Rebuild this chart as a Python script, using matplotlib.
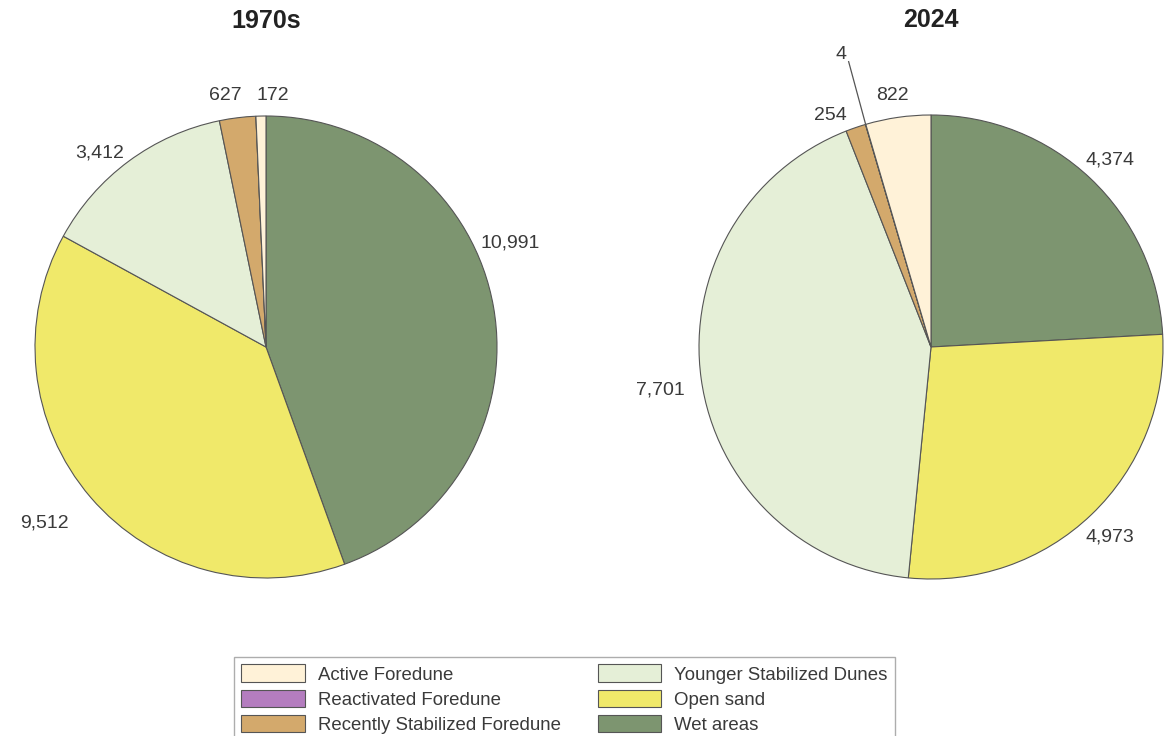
import numpy as np
import matplotlib.pyplot as plt

plt.rcParams['font.family'] = ['Liberation Sans', 'DejaVu Sans']

# pie order: clockwise from the top
classes = ["Wet areas", "Open sand", "Younger Stabilized Dunes",
           "Recently Stabilized Foredune", "Reactivated Foredune", "Active Foredune"]
colors = ["#7d9570", "#f0e96a", "#e5efd7", "#d3a96c", "#b47dbf", "#fff2d8"]
area_1970s = [10991, 9512, 3412, 627, 0, 172]
area_2024 = [4374, 4973, 7701, 254, 4, 822]
legend_order = ["Active Foredune", "Reactivated Foredune", "Recently Stabilized Foredune",
                "Younger Stabilized Dunes", "Open sand", "Wet areas"]

# label positions in pie radius units (layout only)
pos_1970s = [(1.056, 0.45), (-0.957, -0.762), (-0.719, 0.84), (-0.177, 1.087), None, (0.03, 1.087)]
pos_2024 = [(0.772, 0.806), (0.772, -0.819), (-1.168, -0.185), (-0.435, 1.0),
            (-0.388, 1.259), (-0.168, 1.082)]

W, H = 1171, 736
fig = plt.figure(figsize=(W / 100, H / 100), dpi=100)


def pie_axes(cx, cy, r):
    return fig.add_axes([(cx - r) / W, 1 - (cy + r) / H, 2 * r / W, 2 * r / H])


def draw(ax, values, positions, title):
    wedges, _ = ax.pie(values, colors=colors, startangle=90, counterclock=False,
                       radius=1, wedgeprops=dict(edgecolor="#555555", linewidth=0.8))
    ax.set_xlim(-1, 1)
    ax.set_ylim(-1, 1)
    ax.set_aspect("equal")
    ax.axis("off")
    for v, p in zip(values, positions):
        if p is None:
            continue
        ax.text(p[0], p[1], f"{v:,}", ha="center", va="center", fontsize=14,
                color="#3a3a3a", clip_on=False)
    ax.text(0, 1.381, title, ha="center", va="baseline", fontsize=18,
            fontweight="bold", color="#222222", clip_on=False)
    return wedges


ax1 = pie_axes(266, 347, 231)
wedges = draw(ax1, area_1970s, pos_1970s, "1970s")

ax2 = pie_axes(931, 347, 232)
draw(ax2, area_2024, pos_2024, "2024")

# leader line for the tiny reactivated slice
total = sum(area_2024)
start = 90 - 360 * sum(area_2024[:4]) / total
ang = start - 360 * area_2024[4] / total / 2
ex, ey = np.cos(np.radians(ang)), np.sin(np.radians(ang))
ax2.plot([-0.355, ex], [1.23, ey], color="#555555", linewidth=0.9, clip_on=False)

handles = [wedges[classes.index(c)] for c in legend_order]
leg = fig.legend(handles, legend_order, loc="upper left", bbox_to_anchor=(234 / W, 1 - 657 / H),
                 ncol=2, fontsize=13.4, frameon=True, fancybox=False, edgecolor="#999999",
                 handlelength=3.4, handleheight=1.08, labelspacing=0.32, columnspacing=2.0,
                 handletextpad=0.7, borderpad=0.4, borderaxespad=0)
leg.get_frame().set_linewidth(1.0)
for t in leg.get_texts():
    t.set_color("#3a3a3a")

fig.savefig("out.png", dpi=100)
